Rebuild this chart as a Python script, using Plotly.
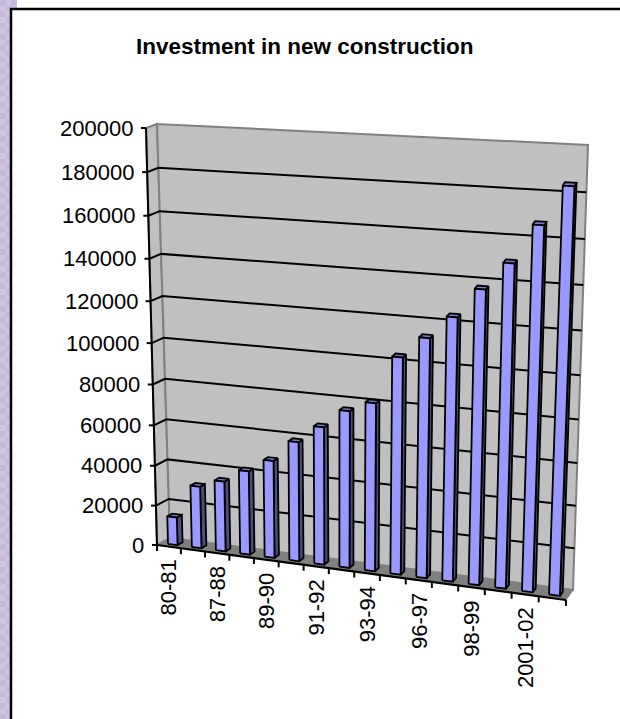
import numpy as np
import plotly.graph_objects as go

# Investment per financial year (every second year is labelled on the axis)
values = [14000, 31000, 35000, 41500, 48000, 58500, 67000, 76000,
          81000, 103500, 113500, 124000, 137500, 150000, 167500, 185000]
tick_labels = ["80-81", "87-88", "89-90", "91-92", "93-94", "96-97", "98-99", "2001-02"]
value_ticks = list(range(0, 200001, 20000))
title = "Investment in new construction"

VMAX = 200000.0
N = len(values)

# Page-space corners of the 3-D box: (bottom-left, bottom-right, top-left, top-right)
FRONT = [(157, 545), (566, 600), (146, 128), (583, 154)]
BACK = [(170, 538), (573, 590), (157, 124), (588, 145)]


def homography(corners):
    src = [(0, 0), (1, 0), (0, 1), (1, 1)]
    A, b = [], []
    for (u, v), (x, y) in zip(src, corners):
        A.append([u, v, 1, 0, 0, 0, -u * x, -v * x])
        A.append([0, 0, 0, u, v, 1, -u * y, -v * y])
        b += [x, y]
    return np.append(np.linalg.solve(np.array(A, float), np.array(b, float)), 1).reshape(3, 3)


H_FRONT = homography(FRONT)
H_BACK = homography(BACK)


def apply_h(H, u, v):
    p = H @ np.array([u, v, 1.0])
    return p[:2] / p[2]


def project(cat, depth, value):
    """Map category position, depth (0 front, 1 back) and value to page space."""
    u, v = cat / N, value / VMAX
    return (1 - depth) * apply_h(H_FRONT, u, v) + depth * apply_h(H_BACK, u, v)


fig = go.Figure()


def poly(points, fill=None, line="black", width=1.0):
    xs = [p[0] for p in points]
    ys = [p[1] for p in points]
    if fill:
        xs.append(xs[0])
        ys.append(ys[0])
    fig.add_trace(go.Scatter(
        x=xs, y=ys, mode="lines", fill="toself" if fill else "none",
        fillcolor=fill, line=dict(color=line, width=width), hoverinfo="skip",
        showlegend=False,
    ))


# Textured sidebar of the slide
cell = 17 / 3
rows = int(719 / cell) + 1
cols = 3
fig.add_trace(go.Heatmap(
    z=[[(r + c) % 2 for c in range(cols)] for r in range(rows)],
    x0=cell / 2, dx=cell, y0=cell / 2, dy=cell,
    colorscale=[[0, "#C5BADA"], [1, "#CEC5E1"]], showscale=False, hoverinfo="skip",
))

# Slide panel with its black frame
poly([(11, 9), (620, 9), (620, 719), (11, 719)], fill="white", line="white", width=0)
poly([(11, 719), (11, 9), (620, 9)], line="black", width=2.5)

# Walls and floor
poly([project(0, 0, 0), project(0, 1, 0), project(0, 1, VMAX), project(0, 0, VMAX)],
     fill="#C0C0C0", line="#808080", width=2)
poly([project(0, 1, 0), project(N, 1, 0), project(N, 1, VMAX), project(0, 1, VMAX)],
     fill="#C0C0C0", line="#808080", width=2)
poly([project(0, 0, 0), project(N, 0, 0), project(N, 1, 0), project(0, 1, 0)],
     fill="#808080", line="#808080", width=1)

# Gridlines run along the left wall, then across the back wall
for v in value_ticks[1:-1]:
    poly([project(0, 0, v), project(0, 1, v), project(N, 1, v)], line="black", width=2)

# Bars: front, side and top faces
GAP = 0.3
for i, v in enumerate(values):
    l, r = i + GAP, i + 1 - GAP
    d0, d1 = GAP, 1 - GAP
    poly([project(r, d0, 0), project(r, d1, 0), project(r, d1, v), project(r, d0, v)],
         fill="#4D4D80", line="black", width=1.8)
    poly([project(l, d0, v), project(r, d0, v), project(r, d1, v), project(l, d1, v)],
         fill="#7A7ACC", line="black", width=1.8)
    poly([project(l, d0, 0), project(r, d0, 0), project(r, d0, v), project(l, d0, v)],
         fill="#9999FF", line="black", width=1.8)

# Axis lines and tick marks
poly([project(0, 0, 0), project(0, 0, VMAX)], line="black", width=2)
poly([project(0, 0, 0), project(N, 0, 0)], line="black", width=2.2)

annotations = []
for v in value_ticks:
    x, y = project(0, 0, v)
    poly([(x - 5, y), (x, y)], line="black", width=2)
    annotations.append(dict(
        x=x - 11, y=y, text=str(v), showarrow=False, xanchor="right", yanchor="middle",
    ))

for k in range(N + 1):
    x, y = project(k, 0, 0)
    poly([(x, y), (x, y + 6)], line="black", width=2)

for j, label in enumerate(tick_labels):
    x, y = project(2 * j + 0.5, 0, 0)
    annotations.append(dict(
        x=x, y=y + 11, text=label, showarrow=False, textangle=-90,
        xanchor="center", yanchor="top",
    ))

annotations.append(dict(
    x=305, y=46, text=f"<b>{title}</b>", showarrow=False, xanchor="center",
    yanchor="middle", font=dict(size=22.5),
))

fig.update_layout(
    width=620, height=719, margin=dict(l=0, r=0, t=0, b=0),
    paper_bgcolor="white", plot_bgcolor="white", showlegend=False,
    font=dict(family="Liberation Sans", size=22, color="black"),
    xaxis=dict(range=[0, 620], visible=False, fixedrange=True),
    yaxis=dict(range=[719, 0], visible=False, fixedrange=True),
    annotations=annotations,
)
fig.write_html("out.html", config=dict(displayModeBar=False))
